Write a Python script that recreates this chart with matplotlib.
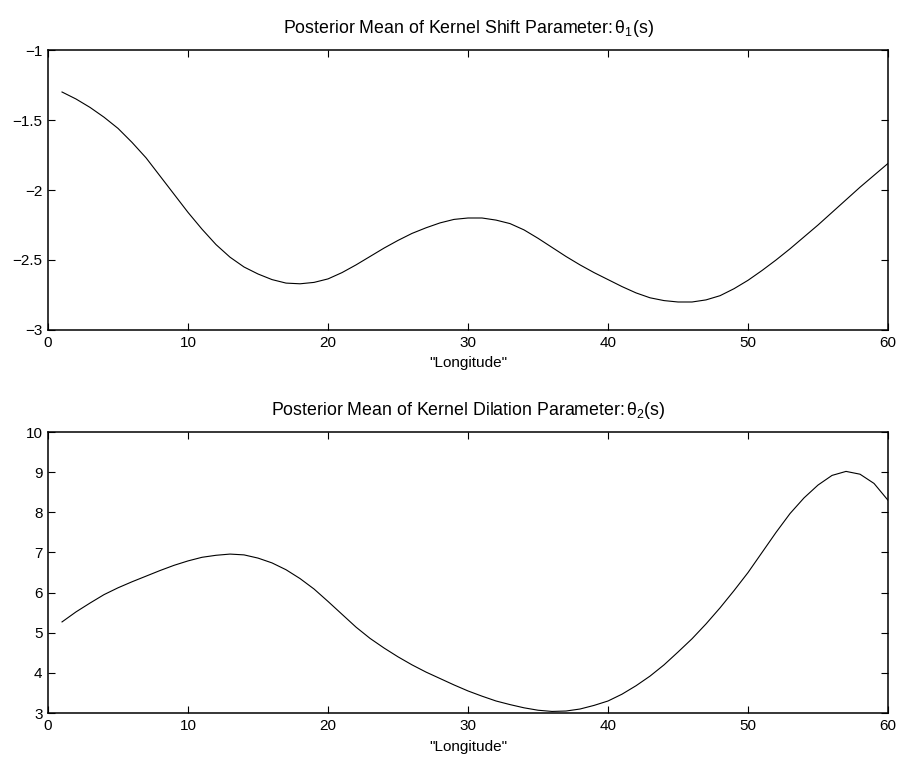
import numpy as np
import matplotlib
matplotlib.use("Agg")
import matplotlib.pyplot as plt

# Longitud (indices 1..60)
longitude = np.arange(1, 61)

# Media a posteriori del parametro de desplazamiento theta_1(s)
theta1 = [
    -1.30, -1.35, -1.41, -1.48, -1.56, -1.66, -1.77, -1.90, -2.03, -2.16,
    -2.28, -2.39, -2.48, -2.55, -2.60, -2.64, -2.665, -2.67, -2.66, -2.635,
    -2.59, -2.535, -2.475, -2.415, -2.36, -2.31, -2.27, -2.235, -2.21, -2.20,
    -2.20, -2.215, -2.24, -2.285, -2.345, -2.41, -2.475, -2.535, -2.59, -2.64,
    -2.69, -2.735, -2.77, -2.79, -2.80, -2.80, -2.785, -2.755, -2.705, -2.645,
    -2.575, -2.50, -2.42, -2.335, -2.25, -2.16, -2.07, -1.98, -1.895, -1.81,
]

# Media a posteriori del parametro de dilatacion theta_2(s)
theta2 = [
    5.27, 5.52, 5.74, 5.95, 6.12, 6.27, 6.41, 6.55, 6.68, 6.79,
    6.88, 6.93, 6.96, 6.94, 6.86, 6.74, 6.57, 6.35, 6.09, 5.78,
    5.46, 5.14, 4.86, 4.62, 4.40, 4.20, 4.02, 3.86, 3.70, 3.55,
    3.42, 3.30, 3.21, 3.13, 3.07, 3.04, 3.05, 3.10, 3.19, 3.30,
    3.47, 3.68, 3.92, 4.20, 4.52, 4.85, 5.22, 5.62, 6.05, 6.50,
    7.00, 7.50, 7.97, 8.36, 8.68, 8.92, 9.02, 8.95, 8.72, 8.30,
]

x_ticks = [0, 10, 20, 30, 40, 50, 60]
y1_ticks = [-3, -2.5, -2, -1.5, -1]
y1_labels = ["\u22123", "\u22122.5", "\u22122", "\u22121.5", "\u22121"]
y2_ticks = [3, 4, 5, 6, 7, 8, 9, 10]

titles = [
    r"Posterior Mean of Kernel Shift Parameter:$\,\theta_1$(s)",
    r"Posterior Mean of Kernel Dilation Parameter:$\,\theta_2$(s)",
]
x_label = '"Longitude"'

plt.rcParams["font.family"] = ["Liberation Sans", "DejaVu Sans"]
plt.rcParams["mathtext.fontset"] = "custom"
plt.rcParams["mathtext.rm"] = "Liberation Sans"
plt.rcParams["mathtext.it"] = "Liberation Sans"
plt.rcParams["mathtext.bf"] = "Liberation Sans:bold"

fig = plt.figure(figsize=(9.01, 7.60), dpi=100)
ax1 = fig.add_axes([0.0533, 0.5658, 0.9323, 0.3684])
ax2 = fig.add_axes([0.0533, 0.0618, 0.9323, 0.3697])

series = [theta1, theta2]
ylims = [(-3, -1), (3, 10)]
yticks = [y1_ticks, y2_ticks]

for i, ax in enumerate([ax1, ax2]):
    ax.plot(longitude, series[i], color="black", linewidth=0.8)
    ax.set_xlim(0, 60)
    ax.set_ylim(*ylims[i])
    ax.set_xticks(x_ticks)
    ax.set_yticks(yticks[i])
    if i == 0:
        ax.set_yticklabels(y1_labels)
    ax.tick_params(direction="in", length=5, width=0.8, top=True, right=True,
                   labelsize=11, pad=4)
    for sp in ax.spines.values():
        sp.set_linewidth(1.1)
    ax.set_xlabel(x_label, fontsize=11, labelpad=5)
    ax.set_title(titles[i], fontsize=12.8, pad=12)

fig.savefig("out.png", dpi=100)
